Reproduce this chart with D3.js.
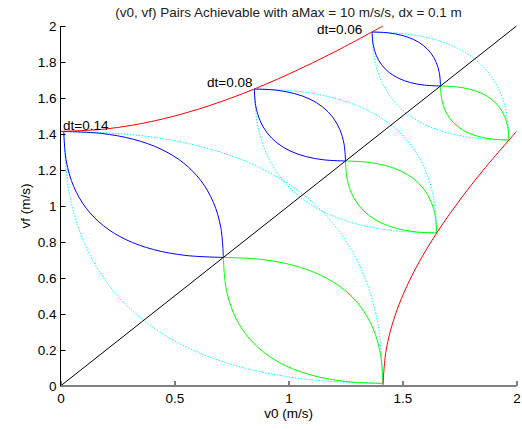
<!DOCTYPE html>
<html>
<head>
<meta charset="utf-8">
<script src="https://cdn.jsdelivr.net/npm/d3@7"></script>
<style>
  body { margin: 0; background: #fff; }
  svg { display: block; font-family: "Liberation Sans", Arial, sans-serif; }
</style>
</head>
<body>
<svg></svg>
<script>
// Canvas size
const width = 522, height = 430;
const fontSize = 13.5;

// Tick values for both axes
const xTicks = [0, 0.5, 1, 1.5, 2];
const yTicks = [0, 0.2, 0.4, 0.6, 0.8, 1, 1.2, 1.4, 1.6, 1.8, 2];

// dt labels and where they sit (v0, vf)
const dtLabels = ["dt=0.14", "dt=0.08", "dt=0.06"];
const dtLabelPos = [[0.011, 1.422], [0.842, 1.662], [1.324, 1.958]];

// Blue arcs (accelerate / coast), two per dt: [v0, vf]
const blueArcs = [
    [[0.7143,0.7143],[0.7034,0.8784],[0.6705,1.0205],[0.6158,1.1408],[0.5393,1.2393],[0.4408,1.3158],[0.3205,1.3705],[0.1783,1.4033],[0.0143,1.4143]],
    [[0.7143,0.7143],[0.5502,0.7252],[0.4080,0.7580],[0.2877,0.8127],[0.1893,0.8893],[0.1127,0.9877],[0.0580,1.1080],[0.0252,1.2502],[0.0143,1.4143]],
    [[1.25,1.25],[1.2438,1.3438],[1.225,1.425],[1.1938,1.4938],[1.15,1.55],[1.0938,1.5938],[1.025,1.625],[0.9438,1.6438],[0.85,1.65]],
    [[1.25,1.25],[1.1563,1.2563],[1.075,1.275],[1.0063,1.3063],[0.95,1.35],[0.9063,1.4063],[0.875,1.475],[0.8563,1.5563],[0.85,1.65]],
    [[1.6667,1.6667],[1.6620,1.7370],[1.6479,1.7979],[1.6245,1.8495],[1.5917,1.8917],[1.5495,1.9245],[1.4979,1.9479],[1.4370,1.9620],[1.3667,1.9667]],
    [[1.6667,1.6667],[1.5964,1.6714],[1.5354,1.6854],[1.4839,1.7089],[1.4417,1.7417],[1.4089,1.7839],[1.3854,1.8354],[1.3714,1.8964],[1.3667,1.9667]]
];

// Green arcs (decelerate / coast), two per dt
const greenArcs = [
    [[0.7143,0.7143],[0.8784,0.7034],[1.0205,0.6705],[1.1408,0.6158],[1.2393,0.5393],[1.3158,0.4408],[1.3705,0.3205],[1.4033,0.1783],[1.4143,0.0143]],
    [[0.7143,0.7143],[0.7252,0.5502],[0.7580,0.4080],[0.8127,0.2877],[0.8893,0.1893],[0.9877,0.1127],[1.1080,0.0580],[1.2502,0.0252],[1.4143,0.0143]],
    [[1.25,1.25],[1.3438,1.2438],[1.425,1.225],[1.4938,1.1938],[1.55,1.15],[1.5938,1.0938],[1.625,1.025],[1.6438,0.9438],[1.65,0.85]],
    [[1.25,1.25],[1.2563,1.1563],[1.275,1.075],[1.3063,1.0063],[1.35,0.95],[1.4063,0.9063],[1.475,0.875],[1.5563,0.8563],[1.65,0.85]],
    [[1.6667,1.6667],[1.7370,1.6620],[1.7979,1.6479],[1.8495,1.6245],[1.8917,1.5917],[1.9245,1.5495],[1.9479,1.4979],[1.9620,1.4370],[1.9667,1.3667]],
    [[1.6667,1.6667],[1.6714,1.5964],[1.6854,1.5354],[1.7089,1.4839],[1.7417,1.4417],[1.7839,1.4089],[1.8354,1.3854],[1.8964,1.3714],[1.9667,1.3667]]
];

// Cyan dotted arcs (bang-bang), two per dt
const cyanArcs = [
    [[1.4143,0.0143],[1.0862,0.0362],[0.8018,0.1018],[0.5612,0.2112],[0.3643,0.3643],[0.2112,0.5612],[0.1018,0.8018],[0.0362,1.0862],[0.0143,1.4143]],
    [[0.0143,1.4143],[0.3424,1.3924],[0.6268,1.3268],[0.8674,1.2174],[1.0643,1.0643],[1.2174,0.8674],[1.3268,0.6268],[1.3924,0.3424],[1.4143,0.0143]],
    [[1.65,0.85],[1.4625,0.8625],[1.3,0.9],[1.1625,0.9625],[1.05,1.05],[0.9625,1.1625],[0.9,1.3],[0.8625,1.4625],[0.85,1.65]],
    [[0.85,1.65],[1.0375,1.6375],[1.2,1.6],[1.3375,1.5375],[1.45,1.45],[1.5375,1.3375],[1.6,1.2],[1.6375,1.0375],[1.65,0.85]],
    [[1.9667,1.3667],[1.8260,1.3760],[1.7042,1.4042],[1.6010,1.4510],[1.5167,1.5167],[1.4510,1.6010],[1.4042,1.7042],[1.3760,1.8260],[1.3667,1.9667]],
    [[1.3667,1.9667],[1.5073,1.9573],[1.6292,1.9292],[1.7323,1.8823],[1.8167,1.8167],[1.8823,1.7323],[1.9292,1.6292],[1.9573,1.5073],[1.9667,1.3667]]
];

// Red limits (max acceleration / deceleration)
const redArcs = [
    [[0,1.4142],[0.2,1.4283],[0.4,1.4697],[0.6,1.5362],[0.8,1.6248],[1.0,1.7321],[1.2,1.8547],[1.4142,2]],
    [[1.4142,0],[1.4283,0.2],[1.4697,0.4],[1.5362,0.6],[1.6248,0.8],[1.7321,1.0],[1.8547,1.2],[2,1.4142]]
];

// Black diagonal vf = v0
const diagonal = [[0, 0], [2, 2]];

const svg = d3.select("svg").attr("width", width).attr("height", height);

const x = d3.scaleLinear().domain([0, 2]).range([60.5, 516.5]);
const y = d3.scaleLinear().domain([0, 2]).range([386, 26]);

const line = d3.line()
    .x(d => x(d[0]))
    .y(d => y(d[1]))
    .curve(d3.curveCatmullRom.alpha(0.5));

const fmt = d => String(+d.toFixed(1));

// Axes (ticks pointing inward)
const xAxis = svg.append("g")
    .attr("transform", `translate(0,${y(0)})`)
    .call(d3.axisBottom(x).tickValues(xTicks).tickFormat(fmt)
        .tickSizeInner(-5).tickSizeOuter(0).tickPadding(7));
xAxis.select(".domain").remove();

const yAxis = svg.append("g")
    .attr("transform", `translate(${x(0)},0)`)
    .call(d3.axisLeft(y).tickValues(yTicks).tickFormat(fmt)
        .tickSizeInner(-5).tickSizeOuter(0).tickPadding(4));
yAxis.select(".domain").remove();

svg.selectAll(".tick text").attr("font-size", fontSize).attr("fill", "#000")
    .attr("font-family", "Liberation Sans, Arial, sans-serif");
svg.selectAll(".tick line").attr("stroke", "#000");

// Curves
const plot = svg.append("g").attr("fill", "none").attr("stroke-width", 1);

plot.selectAll("path.cyan")
    .data(cyanArcs)
    .enter().append("path")
    .attr("class", "cyan")
    .attr("d", line)
    .attr("stroke", "#00ffff")
    .attr("stroke-dasharray", "1.5,1.5");

plot.selectAll("path.blue")
    .data(blueArcs)
    .enter().append("path")
    .attr("class", "blue")
    .attr("d", line)
    .attr("stroke", "#0000ff");

plot.selectAll("path.green")
    .data(greenArcs)
    .enter().append("path")
    .attr("class", "green")
    .attr("d", line)
    .attr("stroke", "#00ff00");

plot.selectAll("path.red")
    .data(redArcs)
    .enter().append("path")
    .attr("class", "red")
    .attr("d", line)
    .attr("stroke", "#ff0000");

plot.append("path")
    .attr("d", d3.line().x(d => x(d[0])).y(d => y(d[1]))(diagonal))
    .attr("stroke", "#000");

// Axis lines
svg.append("line")
    .attr("x1", x(0)).attr("x2", x(2))
    .attr("y1", y(0)).attr("y2", y(0))
    .attr("stroke", "#7f7f7f").attr("stroke-width", 2);
svg.append("line")
    .attr("x1", x(0)).attr("x2", x(0))
    .attr("y1", y(0)).attr("y2", y(2))
    .attr("stroke", "#000").attr("stroke-width", 1);

// dt labels
svg.selectAll("text.dt")
    .data(dtLabels)
    .enter().append("text")
    .attr("class", "dt")
    .attr("x", (d, i) => x(dtLabelPos[i][0]))
    .attr("y", (d, i) => y(dtLabelPos[i][1]))
    .attr("text-anchor", (d, i) => i === 0 ? "start" : "end")
    .attr("font-size", fontSize)
    .text(d => d);

// Title and axis labels
svg.append("text")
    .attr("x", (x(0) + x(2)) / 2)
    .attr("y", 16.5)
    .attr("text-anchor", "middle")
    .attr("font-size", fontSize)
    .attr("fill", "#222")
    .text("(v0, vf) Pairs Achievable with aMax = 10 m/s/s, dx = 0.1 m");

svg.append("text")
    .attr("x", (x(0) + x(2)) / 2)
    .attr("y", 418)
    .attr("text-anchor", "middle")
    .attr("font-size", fontSize)
    .text("v0 (m/s)");

svg.append("text")
    .attr("transform", `translate(30,${(y(0) + y(2)) / 2}) rotate(-90)`)
    .attr("text-anchor", "middle")
    .attr("font-size", fontSize)
    .text("vf (m/s)");
</script>
</body>
</html>
